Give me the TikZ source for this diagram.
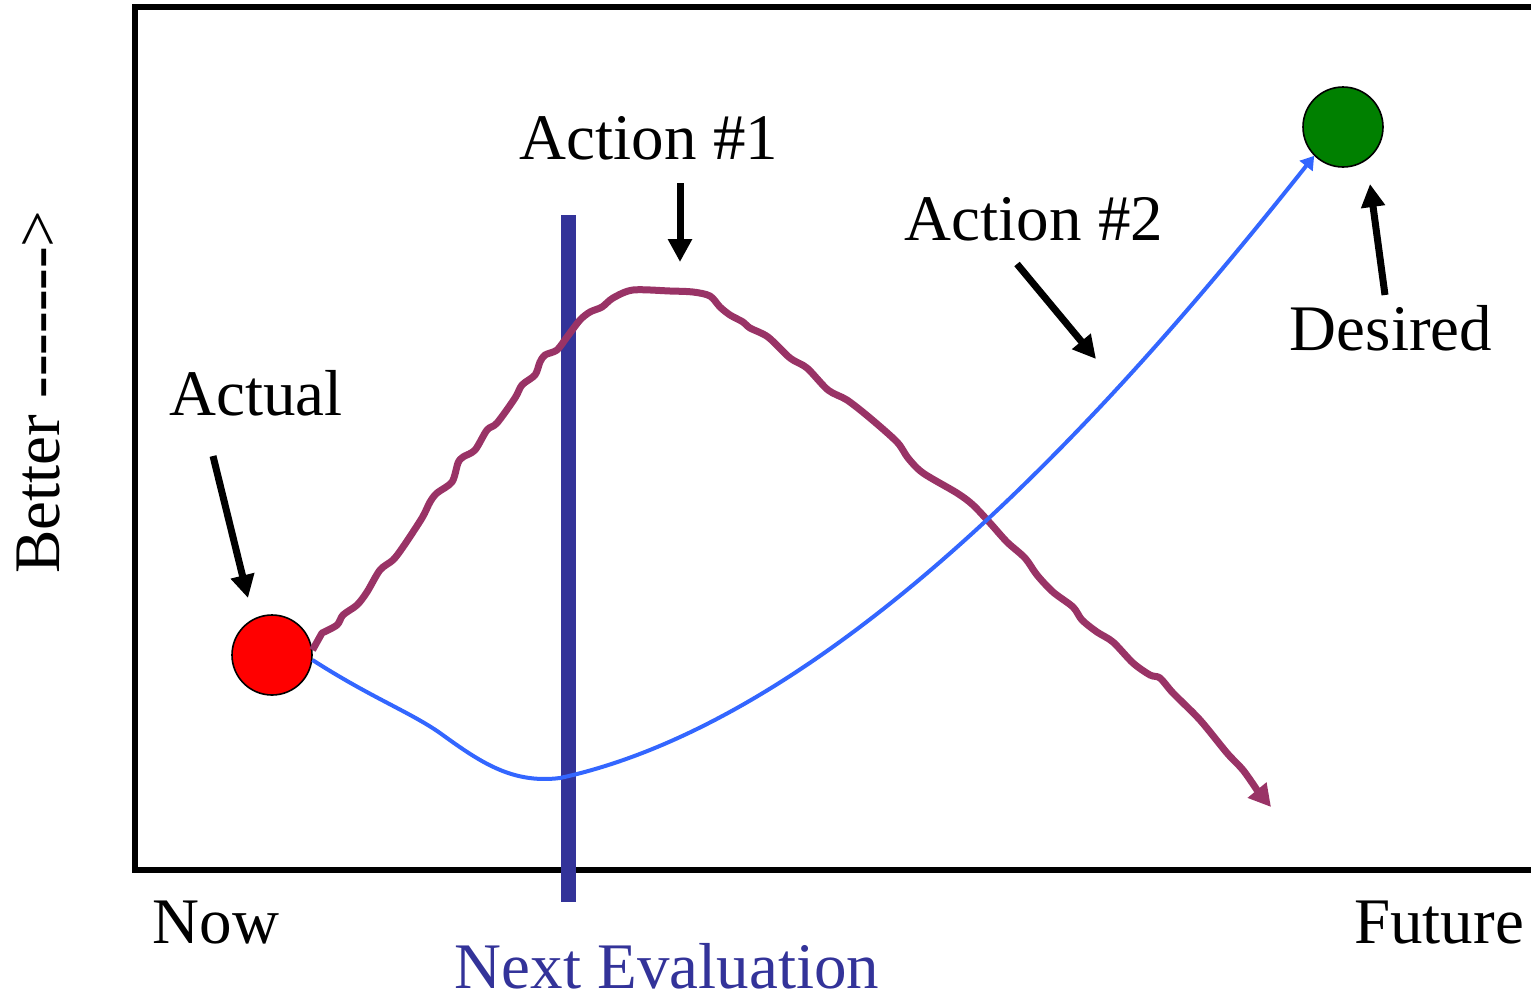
\documentclass[tikz,border=0pt]{standalone}
\usepackage{fontspec}
\setmainfont{Liberation Serif}
\usetikzlibrary{arrows.meta}
\definecolor{purp}{HTML}{993366}
\definecolor{barblue}{HTML}{333399}
\definecolor{lineblue}{HTML}{3366FF}
\definecolor{dgreen}{HTML}{008000}
\begin{document}
\begin{tikzpicture}[x=0.5pt,y=-0.5pt,
  lbl/.style={inner sep=0pt,anchor=base,font=\fontsize{32.5}{39}\selectfont},
  dot/.style={circle,draw=black,line width=0.8pt,minimum size=40pt,inner sep=0pt},
  pointer/.style={line width=3.5pt,-{Triangle[length=11.5pt,width=11.5pt]}},
  purpline/.style={draw=purp,line width=3.5pt,line join=round,-{Triangle[length=11pt,width=11.5pt]}},
  blueline/.style={draw=lineblue,line width=2pt,-{Triangle[length=6.5pt,width=8pt]}}]
\useasboundingbox (0,0) rectangle (1531,997);
% frame
\draw[line width=3pt] (1531,7) -- (135,7) -- (135,870) -- (1531,870);
% nodes
\node[dot,fill=red] (actual) at (272,655) {};
\node[dot,fill=dgreen] (desired) at (1343,127) {};
% labels
\node[lbl] (lactual) at (256,415) {Actual};
\node[lbl] (ldesired) at (1391,350) {Desired};
\node[lbl] (la1) at (649,159) {Action \#1};
\node[lbl] (la2) at (1034,240) {Action \#2};
\node[lbl] (lnow) at (216,943) {Now};
\node[lbl] (lfuture) at (1439,943) {Future};
\node[lbl,text=barblue] (lnext) at (667,988) {Next Evaluation};
\node[lbl,rotate=90] (lbetter) at (59,392) {Better -{}-{}-{}-{}-{}-{}->};
% evaluation bar
\coordinate (bartop) at (568,215);
\coordinate (barbot) at (568,902);
\draw[barblue,line width=7.5pt] (bartop) -- (barbot);
% purple curve (action 1)
\coordinate (pend) at (1271,807);
\draw[purpline] (actual.7) -- plot[smooth,tension=0.5] coordinates {
(322,633) (337,625) (343,615) (357,605) (367,592) (380,570) (393,560) (403,547)
(422,518) (430,502) (437,493) (452,482) (458,463) (463,457) (475,450) (487,430)
(497,423) (515,398) (522,385) (535,375) (540,362) (545,355) (557,350) (567,337)
(580,320) (590,312) (602,307) (613,298) (633,290) (670,291) (693,292) (710,296)
(720,307) (730,315) (743,322) (750,328) (768,337) (790,358) (807,368) (828,390)
(847,400) (870,418) (897,442) (908,458) (923,473) (957,493) (973,505) (990,523)
(1007,542) (1025,558) (1037,575) (1053,592) (1073,607) (1082,620) (1097,632)
(1113,642) (1133,663) (1150,675) (1160,678) (1173,693) (1200,720) (1227,753)
(1243,770) (1257,790)} -- (pend);
% blue curve (action 2)
\coordinate (bmid) at (440,733);
\coordinate (bmin) at (560,778);
\draw[blueline] (actual.353) .. controls (370,697) and (410,712) .. (bmid)
  .. controls (480,762) and (512,784) .. (bmin)
  .. controls (850,715) and (1140,375) .. (desired.225);
% pointer arrows
\coordinate (pa1s) at (213,456); \coordinate (pa1e) at (248,598);
\coordinate (pb1s) at (680,183); \coordinate (pb1e) at (680,262);
\coordinate (pc1s) at (1017,264); \coordinate (pc1e) at (1096,359);
\coordinate (pd1s) at (1385,295); \coordinate (pd1e) at (1370,184);
\draw[pointer] (pa1s) -- (pa1e);
\draw[pointer] (pb1s) -- (pb1e);
\draw[pointer] (pc1s) -- (pc1e);
\draw[pointer] (pd1s) -- (pd1e);
\end{tikzpicture}
\end{document}
